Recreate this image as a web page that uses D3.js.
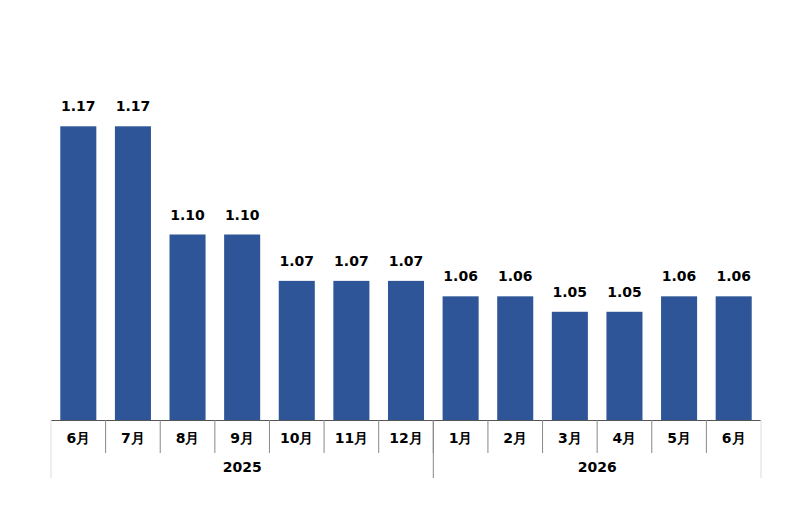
<!DOCTYPE html>
<html>
<head>
<meta charset="utf-8">
<script src="https://cdn.jsdelivr.net/npm/d3@7"></script>
<style>
	body { margin: 0; background: #ffffff; }
	text { font-family: "DejaVu Sans", Verdana, sans-serif; font-weight: bold; fill: #000; }
</style>
</head>
<body>
<div id="chart"></div>
<script>
// chart data
const months = ['6月', '7月', '8月', '9月', '10月', '11月', '12月', '1月', '2月', '3月', '4月', '5月', '6月'];
const values = [1.17, 1.17, 1.10, 1.10, 1.07, 1.07, 1.07, 1.06, 1.06, 1.05, 1.05, 1.06, 1.06];
const years = ['2025', '2026'];
const yearStart = [0, 7];   // index of first month in each year
const yearEnd = [7, 13];

const width = 800, height = 508;
const left = 51, right = 761, baseY = 420;

let svg = d3.select('#chart').append('svg')
	.attr('width', width)
	.attr('height', height);

let keys = d3.range(months.length);

let x = d3.scaleBand()
	.domain(keys)
	.range([left, right])
	.paddingInner(0.34)
	.paddingOuter(0.17);

let y = d3.scaleLinear()
	.domain([0.98, 1.22])
	.range([baseY, 49]);

let step = x.step();
let edge = k => left + k * step;

// bars
svg.append('g')
	.selectAll('rect')
	.data(values)
	.enter()
	.append('rect')
	.attr('x', (d, i) => x(i))
	.attr('y', d => y(d))
	.attr('width', x.bandwidth())
	.attr('height', d => baseY - y(d))
	.attr('fill', '#2E5597');

// value labels
svg.append('g')
	.selectAll('text')
	.data(values)
	.enter()
	.append('text')
	.attr('x', (d, i) => x(i) + x.bandwidth() / 2)
	.attr('y', d => y(d) - 15)
	.attr('text-anchor', 'middle')
	.style('font-size', '14px')
	.text(d => d.toFixed(2));

// axis line
svg.append('line')
	.attr('x1', left).attr('x2', right)
	.attr('y1', baseY + 0.5).attr('y2', baseY + 0.5)
	.attr('stroke', '#555')
	.attr('stroke-width', 1);

// month separators
svg.append('g')
	.selectAll('line')
	.data(d3.range(1, months.length))
	.enter()
	.append('line')
	.attr('x1', k => edge(k)).attr('x2', k => edge(k))
	.attr('y1', baseY).attr('y2', baseY + 33)
	.attr('stroke', '#888')
	.attr('stroke-width', 1);

// year separators (outer edges and year break)
let yearEdges = [0, 7, 13];
svg.append('g')
	.selectAll('line')
	.data(yearEdges)
	.enter()
	.append('line')
	.attr('x1', k => edge(k)).attr('x2', k => edge(k))
	.attr('y1', baseY).attr('y2', baseY + 58)
	.attr('stroke', k => (k == 7) ? '#888' : '#ddd')
	.attr('stroke-width', 1);

// month labels
svg.append('g')
	.selectAll('text')
	.data(months)
	.enter()
	.append('text')
	.attr('x', (d, i) => x(i) + x.bandwidth() / 2)
	.attr('y', baseY + 23)
	.attr('text-anchor', 'middle')
	.style('font-size', '14px')
	.text(d => d);

// year labels
svg.append('g')
	.selectAll('text')
	.data(years)
	.enter()
	.append('text')
	.attr('x', (d, i) => (edge(yearStart[i]) + edge(yearEnd[i])) / 2)
	.attr('y', baseY + 52)
	.attr('text-anchor', 'middle')
	.style('font-size', '14px')
	.text(d => d);
</script>
</body>
</html>
